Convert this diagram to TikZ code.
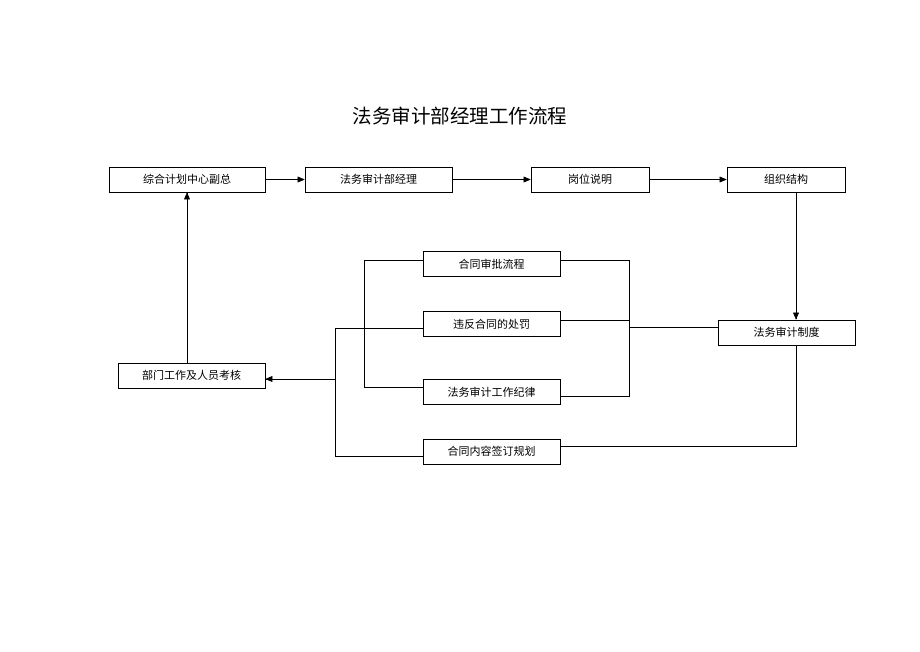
\documentclass[tikz,border=0pt]{standalone}
\usepackage{fontspec}
\newfontfamily\cjk{Noto Sans CJK SC}
\usetikzlibrary{arrows,positioning}
\begin{document}
\begin{tikzpicture}[
    x=1pt, y=-1pt,
    box/.style={draw, semithick, minimum height=25pt, inner sep=0pt,
        font=\cjk\fontsize{11}{13}\selectfont},
    link/.style={semithick},
    arr/.style={semithick, ->, >=triangle 45}
    ]
    \useasboundingbox (0,0) rectangle (920,651);
    \node[font=\cjk\fontsize{19.5}{22}\selectfont] (title) at (460,116) {法务审计部经理工作流程};
    % top row
    \node[box, minimum width=156pt] (vp) at (187,179.5) {综合计划中心副总};
    \node[box, minimum width=147pt] (mgr) at (378.5,179.5) {法务审计部经理};
    \node[box, minimum width=118pt] (post) at (590,179.5) {岗位说明};
    \node[box, minimum width=118pt] (org) at (786,179.5) {组织结构};
    % middle
    \node[box, minimum width=137pt] (appr) at (491.5,264) {合同审批流程};
    \node[box, minimum width=137pt] (viol) at (491.5,324) {违反合同的处罚};
    \node[box, minimum width=137pt] (rule) at (491.5,392) {法务审计工作纪律};
    \node[box, minimum width=137pt] (plan) at (491.5,451.5) {合同内容签订规划};
    \node[box, minimum width=137pt] (sys) at (786.5,332.5) {法务审计制度};
    \node[box, minimum width=147pt] (eval) at (191.5,375.5) {部门工作及人员考核};
    % arrows along top
    \draw[arr] (vp) -- (mgr);
    \draw[arr] (mgr) -- (post);
    \draw[arr] (post) -- (org);
    \draw[arr] (org.south -| 796,0) -- (sys.north -| 796,0);
    % right bracket
    \coordinate (rb) at (629,327);
    \draw[link] (sys.west |- rb) -- (rb);
    \draw[link] (appr.east |- 0,260) -| (629,396) -- (rule.east |- 0,396);
    \draw[link] (viol.east |- 0,320) -- (629,320);
    % left brackets
    \draw[link] (appr.west |- 0,260) -| (364,387) -- (rule.west |- 0,387);
    \draw[link] (viol.west |- 0,328) -| (335,456) -- (plan.west |- 0,456);
    \draw[arr] (335,379) -- (eval.east |- 0,379);
    % sys to plan
    \draw[link] (sys.south -| 796,0) |- (plan.east |- 0,446);
    % eval up
    \draw[arr] (eval.north -| 187,0) -- (vp.south);
\end{tikzpicture}
\end{document}
